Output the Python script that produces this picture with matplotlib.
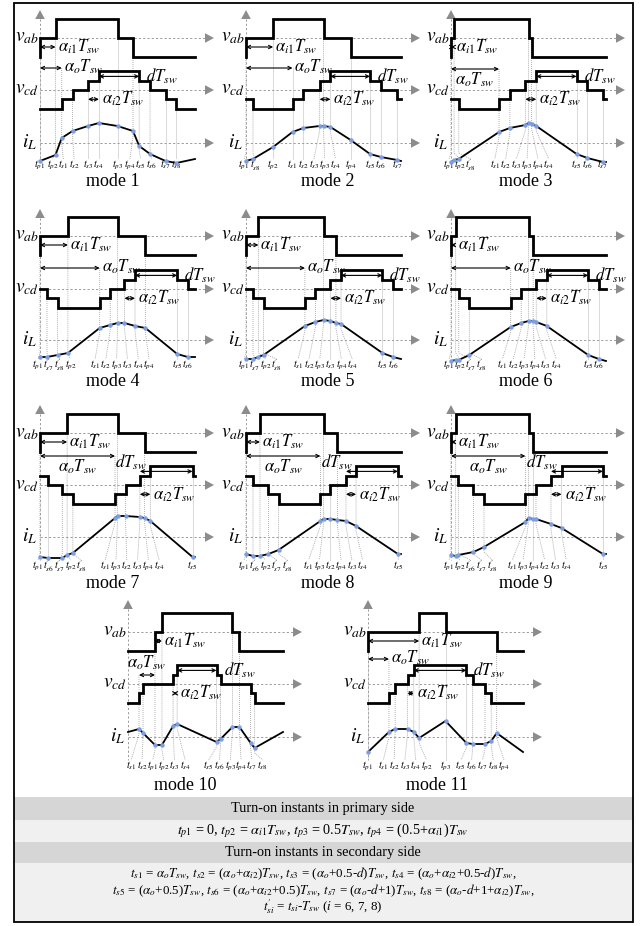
import numpy as np
import matplotlib
matplotlib.use('Agg')
import matplotlib.pyplot as plt
from matplotlib.patches import Polygon, Rectangle

plt.rcParams['font.family'] = ['Liberation Serif', 'DejaVu Serif']
plt.rcParams['mathtext.fontset'] = 'stix'

# ---------------- data ----------------
MODE_NAMES = ['mode 1', 'mode 2', 'mode 3', 'mode 4', 'mode 5', 'mode 6',
              'mode 7', 'mode 8', 'mode 9', 'mode 10', 'mode 11']
AI1 = [0.10, 0.175, 0.02, 0.18, 0.08, 0.03, 0.175, 0.09, 0.03, 0.045, 0.33]
AO = [0.14, 0.30, 0.31, 0.385, 0.38, 0.385, 0.484, 0.48, 0.48, -0.103, 0.135]
AI2 = [0.07, 0.07, 0.07, 0.068, 0.068, 0.068, 0.068, 0.065, 0.068, 0.026, 0.04]
D = [0.33, 0.325, 0.33, 0.34, 0.335, 0.335, 0.34, 0.335, 0.335, 0.28, 0.38]
T_START = [0, 0, 0, 0, 0, 0, 0, 0, 0, -0.174, 0]
VAB_START = [-1, -1, -1, -1, -1, -1, -1, -1, -1, -1, -1]
VCD_START = [-2, -1, -1, 0, 0, 0, 1, 1, 1, -2, -2]

IL_M1 = {'start': -18, 'p1': -18, 'p2': -12, 's1': 5, 's2': 12, 's3': 17, 's4': 20, 'p3': 17,
         'p4': 12, 's5': -3, 's6': -11, 's7': -18, 's8': -20, 'end': -16}
IL_M2 = {'start': -18, 'p1': -18, 's8': -16, 'p2': -4, 's1': 11, 's2': 15, 's3': 17, 'p3': 17,
         's4': 16, 'p4': 3, 's5': -11, 's6': -14, 's7': -17, 'end': -18}
IL_M3 = {'start': -19, 'p1': -19, 'p2': -17, 's8': -16, 's1': 11, 's2': 15, 's3': 18, 'p3': 20,
         'p4': 19, 's4': 17, 's5': -11, 's6': -15, 's7': -19, 'end': -19}
IL_M4 = {'start': -17, 'p1': -17, 's7': -17, 's8': -15, 'p2': -13, 's1': 12, 's2': 15, 'p3': 17,
         's3': 17, 's4': 14, 'p4': 12, 's5': -14, 's6': -17, 'end': -17}
IL_M5 = {'start': -19, 'p1': -19, 's7': -19, 'p2': -17, 's8': -15, 's1': 14, 's2': 18, 'p3': 20,
         's3': 19, 'p4': 17, 's4': 16, 's5': -13, 's6': -17, 'end': -19}
IL_M6 = {'start': -21, 'p1': -21, 'p2': -20, 's7': -20, 's8': -15, 's1': 13, 's2': 17, 'p3': 19,
         'p4': 19, 's3': 18, 's4': 14, 's5': -15, 's6': -19, 'end': -21}
IL_M7 = {'start': -20, 'p1': -20, 's6': -21, 's7': -21, 'p2': -18, 's8': -16, 's1': 19, 'p3': 21,
         's2': 21, 's3': 20, 'p4': 19, 's4': 16, 's5': -20, 'end': -20}
IL_M8 = {'start': -17, 'p1': -17, 's6': -19, 'p2': -19, 's7': -17, 's8': -13, 's1': 16, 'p3': 18,
         's2': 18, 'p4': 17, 's3': 16, 's4': 11, 's5': -17, 'end': -17}
IL_M9 = {'start': -18, 'p1': -18, 'p2': -19, 's6': -18, 's7': -15, 's8': -10, 's1': 15, 'p3': 19,
         'p4': 18, 's2': 18, 's3': 13, 's4': 9, 's5': -17, 'end': -17}
IL_M10 = {'start': 5, 's1': 8, 's2': 4, 'p1': -8, 'p2': -8, 's3': 11, 's4': 13, 's5': -5,
          's6': -2, 'p3': 10, 'p4': 10, 's7': -6, 's8': -11, 'end': 5}
IL_M11 = {'start': -15, 'p1': -15, 's1': 5, 's2': 8, 's3': 8, 's4': 5, 'p2': -1, 'p3': 16,
          's5': -6, 's6': -7, 's7': -7, 's8': -4, 'p4': 4, 'end': -15}
IL_ALL = [IL_M1, IL_M2, IL_M3, IL_M4, IL_M5, IL_M6, IL_M7, IL_M8, IL_M9, IL_M10, IL_M11]

VAB_STEP = {'p1': 1, 'p2': 1, 'p3': -1, 'p4': -1}
VCD_STEP = {'s1': 1, 's2': 1, 's3': 1, 's4': 1, 's5': -1, 's6': -1, 's7': -1, 's8': -1}

PRIMARY_HEADER = 'Turn-on instants in primary side'
PRIMARY_TEXT = (r'$t_{p1}$ = 0, $t_{p2}$ = $\alpha_{i1}T_{sw}$, $t_{p3}$ = 0.5$T_{sw}$, '
                r'$t_{p4}$ = (0.5+$\alpha_{i1}$)$T_{sw}$')
SECONDARY_HEADER = 'Turn-on instants in secondary side'
SECONDARY_LINES = [
    r'$t_{s1}$ = $\alpha_oT_{sw}$, $t_{s2}$ = ($\alpha_o$+$\alpha_{i2}$)$T_{sw}$, '
    r'$t_{s3}$ = ($\alpha_o$+0.5-$d$)$T_{sw}$, $t_{s4}$ = ($\alpha_o$+$\alpha_{i2}$+0.5-$d$)$T_{sw}$,',
    r'$t_{s5}$ = ($\alpha_o$+0.5)$T_{sw}$, $t_{s6}$ = ($\alpha_o$+$\alpha_{i2}$+0.5)$T_{sw}$, '
    r'$t_{s7}$ = ($\alpha_o$-$d$+1)$T_{sw}$, $t_{s8}$ = ($\alpha_o$-$d$+1+$\alpha_{i2}$)$T_{sw}$,',
    r'$t^{\prime}_{si}$ = $t_{si}$-$T_{sw}$ ($i$ = 6, 7, 8)',
]

# ---------------- layout / style ----------------
FIG_W, FIG_H = 641, 926
W = 155.0                     # pixels per switching period
PANEL_X0 = [40, 246, 451, 40, 246, 451, 40, 246, 451, 128, 368]
PANEL_ROW = [0, 0, 0, 1, 1, 1, 2, 2, 2, 3, 3]
ROWS = [
    dict(top=10, vab=38, vcd=90, il=143, tick=165, label=182),
    dict(top=209, vab=236, vcd=289, il=340, tick=365, label=382),
    dict(top=405, vab=433, vcd=485, il=537, tick=566, label=583),
    dict(top=600, vab=632, vcd=684, il=737, tick=766, label=785),
]
AO_Y = [68, 68, 69, 268, 268, 268, 456, 456, 456, 675, 659]
AO_LABEL = ['right', 'right', 'below', 'right', 'right', 'right', 'below', 'below', 'below',
            'above', 'right']
D_LABEL = ['right'] * 6 + ['above'] * 3 + ['right', 'right']
D_FROM = ['s4'] * 6 + ['s3'] * 3 + ['s4', 's4']
MODE_LABEL_X = [113, 328, 526, 113, 328, 526, 113, 328, 526, 185, 437]
VAB_AMP = 18.7
VCD_STEP_PX = 9.3
GRAY = '#8c8c8c'
DOT = '#7c9ee0'

fig = plt.figure(figsize=(FIG_W / 100, FIG_H / 100), dpi=100)
bg = fig.add_axes([0, 0, 1, 1])
bg.set_xlim(0, FIG_W)
bg.set_ylim(FIG_H, 0)
bg.axis('off')

# table bands
bands = [(797, 820, '#d6d6d6'), (820, 842, '#f0f0f0'), (842, 863, '#d6d6d6'), (863, 922, '#f0f0f0')]
for y0, y1, c in bands:
    bg.add_patch(Rectangle((14, y0), 619, y1 - y0, facecolor=c, edgecolor='none', zorder=0))
bg.add_patch(Rectangle((14, 3), 619, 919, fill=False, edgecolor='black', lw=1.3, zorder=5))
bg.text(323, 808.5, PRIMARY_HEADER, ha='center', va='center', fontsize=10.3)
bg.text(323, 831, PRIMARY_TEXT, ha='center', va='center', fontsize=10.3)
bg.text(323, 852.5, SECONDARY_HEADER, ha='center', va='center', fontsize=10.3)
for k, line in enumerate(SECONDARY_LINES):
    bg.text(323, 874 + 16.3 * k, line, ha='center', va='center', fontsize=9.4)


def events_for(i):
    ai1, ao, ai2, d, t0 = AI1[i], AO[i], AI2[i], D[i], T_START[i]
    tp = {'p1': 0.0, 'p2': ai1, 'p3': 0.5, 'p4': 0.5 + ai1}
    ts = {'s1': ao, 's2': ao + ai2, 's3': ao + 0.5 - d, 's4': ao + ai2 + 0.5 - d,
          's5': ao + 0.5, 's6': ao + ai2 + 0.5, 's7': ao - d + 1, 's8': ao - d + 1 + ai2}
    ev = [(k, t, False) for k, t in tp.items()]
    for k, t in ts.items():
        n = np.floor((t - t0) + 1e-9)
        ev.append((k, t - n, n > 0))
    ev.sort(key=lambda e: e[1])
    return ev


def step_trace(ev, steps, level0, t0):
    xs, ys = [t0], [level0]
    lev = level0
    for k, t, _ in ev:
        if k in steps:
            xs += [t, t]
            ys += [lev, lev + steps[k]]
            lev += steps[k]
    xs.append(t0 + 1)
    ys.append(lev)
    return np.array(xs), np.array(ys), lev


def spread(xs, gap, lo, hi):
    p = list(xs)
    for _ in range(400):
        moved = False
        for j in range(1, len(p)):
            ov = gap - (p[j] - p[j - 1])
            if ov > 1e-6:
                p[j - 1] -= ov / 2
                p[j] += ov / 2
                moved = True
        if p[0] < lo:
            p[0] = lo
        if p[-1] > hi:
            p[-1] = hi
        if not moved:
            break
    return p


def tri(ax, tip_x, tip_y, direction):
    if direction == 'right':
        pts = [(tip_x, tip_y), (tip_x - 9 / W, tip_y - 4.8), (tip_x - 9 / W, tip_y + 4.8)]
    else:
        pts = [(tip_x, tip_y), (tip_x - 4.8 / W, tip_y + 9), (tip_x + 4.8 / W, tip_y + 9)]
    ax.add_patch(Polygon(pts, closed=True, facecolor=GRAY, edgecolor='none', clip_on=False, zorder=2))


def darrow(ax, t1, t2, y, style='<->'):
    ax.annotate('', xy=(t2, y), xytext=(t1, y),
                arrowprops=dict(arrowstyle=style, lw=0.8, color='black',
                                mutation_scale=6, shrinkA=0, shrinkB=0),
                annotation_clip=False)


for i in range(len(MODE_NAMES)):
    r = ROWS[PANEL_ROW[i]]
    x0 = PANEL_X0[i]
    t0 = T_START[i]
    ax = fig.add_axes([x0 / FIG_W, 1 - r['label'] / FIG_H, W / FIG_W,
                       (r['label'] - r['top']) / FIG_H])
    ax.set_xlim(t0, t0 + 1)
    ax.set_ylim(r['label'], r['top'])
    ax.axis('off')
    ev = events_for(i)
    tmap = {k: t for k, t, _ in ev}
    il = IL_ALL[i]
    px = 1.0 / W
    tip_x = t0 + 1 + 19 * px

    # axes (dashed gray) with arrows
    for key in ('vab', 'vcd', 'il'):
        ax.plot([t0, tip_x - 9 * px], [r[key], r[key]], color='#9a9a9a', lw=0.7,
                ls=(0, (2.2, 2.2)), clip_on=False, zorder=1)
        tri(ax, tip_x, r[key], 'right')
    ax.plot([t0, t0], [r['top'] + 9, r['tick'] - 6], color='#9a9a9a', lw=0.7,
            ls=(0, (2.2, 2.2)), clip_on=False, zorder=1)
    tri(ax, t0, r['top'], 'up')

    # axis names
    ax.text(t0 - 1 * px, r['vab'], r'$v_{ab}$', ha='right', va='center', fontsize=14, clip_on=False)
    ax.text(t0 - 1 * px, r['vcd'], r'$v_{cd}$', ha='right', va='center', fontsize=14, clip_on=False)
    ax.text(t0 - 3 * px, r['il'] - 1, r'$i_L$', ha='right', va='center', fontsize=14, clip_on=False)

    # vab / vcd waveforms
    xs, ys, _ = step_trace(ev, VAB_STEP, VAB_START[i], t0)
    yab = r['vab'] - ys * VAB_AMP
    ax.plot(xs, yab, color='black', lw=2.0, solid_joinstyle='miter', clip_on=False, zorder=4)
    xs2, ys2, _ = step_trace(ev, VCD_STEP, VCD_START[i], t0)
    ycd = r['vcd'] - ys2 * VCD_STEP_PX
    ax.plot(xs2, ycd, color='black', lw=2.0, solid_joinstyle='miter', clip_on=False, zorder=4)

    # level bookkeeping for tick-line tops
    lev_ab = VAB_START[i]
    lev_cd = VCD_START[i]
    tops = {}
    for k, t, _ in ev:
        if k in VAB_STEP:
            new = lev_ab + VAB_STEP[k]
            tops[k] = r['vab'] - max(lev_ab, new) * VAB_AMP
            lev_ab = new
        else:
            new = lev_cd + VCD_STEP[k]
            tops[k] = r['vcd'] - max(lev_cd, new) * VCD_STEP_PX
            lev_cd = new
    tops['s1'] = min(tops['s1'], AO_Y[i])

    # iL
    it = [t0] + [t for k, t, _ in ev] + [t0 + 1]
    iv = [il['start']] + [il[k] for k, t, _ in ev] + [il['end']]
    iy = r['il'] - np.array(iv, dtype=float)
    ax.plot(it, iy, color='black', lw=1.3, clip_on=False, zorder=4)
    ax.plot([t for k, t, _ in ev], [r['il'] - il[k] for k, t, _ in ev], 'o', ms=3.2,
            color=DOT, mec='none', clip_on=False, zorder=5)

    # tick labels with spreading
    tick_px = [x0 + (t - t0) * W for k, t, _ in ev]
    lab_px = spread(tick_px, 10.8, x0 - 2, x0 + W + 6)
    for (k, t, prime), xp, lp in zip(ev, tick_px, lab_px):
        lt = t0 + (lp - x0) / W
        ybot = r['tick'] - 6
        yl = r['il'] - il[k]
        if abs(lp - xp) < 0.8:
            ax.plot([t, t], [tops[k], ybot], color='#a8a8a8', lw=0.6, ls=(0, (1.2, 1.2)),
                    clip_on=False, zorder=1)
        else:
            ysplit = min(yl + 5, ybot - 6)
            ax.plot([t, t, lt], [tops[k], ysplit, ybot], color='#a8a8a8', lw=0.6,
                    ls=(0, (1.2, 1.2)), clip_on=False, zorder=1)
        if prime:
            lab = r'$t^{\prime}_{%s}$' % k
        else:
            lab = r'$t_{%s}$' % k
        ax.text(lt, r['tick'], lab, ha='center', va='center', fontsize=7.3, clip_on=False)

    # alpha_i1 annotation
    yai = r['vab'] + 9
    darrow(ax, 0.0, tmap['p2'], yai)
    ax.text(tmap['p2'] + 2 * px, yai, r'$\alpha_{i1}T_{sw}$', ha='left', va='center', fontsize=12,
            clip_on=False)

    # alpha_o annotation
    ya = AO_Y[i]
    a0, a1 = min(0.0, tmap['s1']), max(0.0, tmap['s1'])
    darrow(ax, a0, a1, ya)
    if AO_LABEL[i] == 'right':
        ax.text(a1 + 2 * px, ya - 1, r'$\alpha_oT_{sw}$', ha='left', va='center', fontsize=12,
                clip_on=False)
    elif AO_LABEL[i] == 'below':
        ax.text((a0 + a1) / 2, ya + 11, r'$\alpha_oT_{sw}$', ha='center', va='center', fontsize=12,
                clip_on=False)
    else:
        ax.text((a0 + a1) / 2, ya - 12, r'$\alpha_oT_{sw}$', ha='center', va='center', fontsize=12,
                clip_on=False)

    # alpha_i2 annotation
    y2 = r['vcd'] + VCD_STEP_PX
    s3, s4 = tmap['s3'], tmap['s4']
    darrow(ax, s3, s4, y2)
    ax.text(max(s3, s4) + 3 * px, y2, r'$\alpha_{i2}T_{sw}$', ha='left', va='center', fontsize=12,
            clip_on=False)

    # d annotation
    yd = r['vcd'] - 2 * VCD_STEP_PX + 5
    df = tmap[D_FROM[i]]
    s5 = tmap['s5']
    darrow(ax, df, s5, yd)
    if D_LABEL[i] == 'right':
        ax.text(s5 + 7 * px, yd, r'$dT_{sw}$', ha='left', va='center', fontsize=12, clip_on=False)
    else:
        ax.text(df - 9 * px, yd - 9, r'$dT_{sw}$', ha='center', va='center', fontsize=12,
                clip_on=False)

    bg.text(MODE_LABEL_X[i], r['label'], MODE_NAMES[i], ha='center', va='center', fontsize=13)

fig.savefig('out.png', dpi=100)
